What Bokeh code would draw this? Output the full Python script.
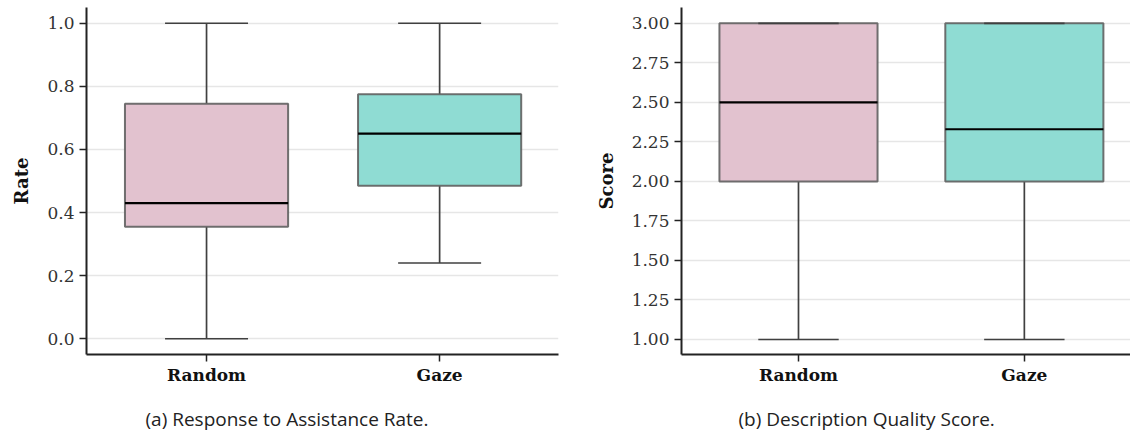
from bokeh.plotting import figure
from bokeh.layouts import row
from bokeh.models import FixedTicker, Range1d, Title
from bokeh.embed import file_html
from bokeh.resources import INLINE

categories = ["Random", "Gaze"]

rate_low = [0.0, 0.24]
rate_q1 = [0.355, 0.485]
rate_median = [0.43, 0.65]
rate_q3 = [0.745, 0.775]
rate_high = [1.0, 1.0]

score_low = [1.0, 1.0]
score_q1 = [2.0, 2.0]
score_median = [2.5, 2.33]
score_q3 = [3.0, 3.0]
score_high = [3.0, 3.0]

rate_ticks = [0.0, 0.2, 0.4, 0.6, 0.8, 1.0]
score_ticks = [1.0, 1.25, 1.5, 1.75, 2.0, 2.25, 2.5, 2.75, 3.0]

colors = ["#e2c2cf", "#8fdcd3"]

SERIF = "DejaVu Serif"


def make_panel(low, q1, med, q3, high, ticks, xr, yr, ylabel, caption, fmt,
               width, border_left, border_right, cap_offset):
    p = figure(width=width, height=435, output_backend="svg", toolbar_location=None,
               x_range=Range1d(*xr), y_range=Range1d(*yr),
               min_border_left=border_left, min_border_right=border_right,
               min_border_top=7, min_border_bottom=0)
    p.outline_line_color = None
    xs = list(range(len(categories)))
    bw = 0.7
    cw = 0.178
    # whiskers
    p.segment(x0=xs, x1=xs, y0=q3, y1=high, line_color="#404040", line_width=1.7)
    p.segment(x0=xs, x1=xs, y0=q1, y1=low, line_color="#404040", line_width=1.7)
    # boxes
    p.vbar(x=xs, top=q3, bottom=q1, width=bw, fill_color=colors,
           line_color="#606060", line_width=2, line_alpha=0.9)
    # caps
    p.segment(x0=[x - cw for x in xs], x1=[x + cw for x in xs], y0=high, y1=high,
              line_color="#404040", line_width=1.7)
    p.segment(x0=[x - cw for x in xs], x1=[x + cw for x in xs], y0=low, y1=low,
              line_color="#404040", line_width=1.7)
    # medians
    p.segment(x0=[x - bw / 2 for x in xs], x1=[x + bw / 2 for x in xs], y0=med, y1=med,
              line_color="black", line_width=2.2)

    p.xgrid.grid_line_color = None
    p.ygrid.grid_line_color = "#e6e6e6"
    p.ygrid.grid_line_width = 1.5
    p.ygrid.ticker = FixedTicker(ticks=ticks)

    p.xaxis.ticker = FixedTicker(ticks=xs)
    p.xaxis.major_label_overrides = {i: c for i, c in enumerate(categories)}
    p.yaxis.ticker = FixedTicker(ticks=ticks)
    p.yaxis.major_label_overrides = {t: fmt.format(t) for t in ticks}

    for ax in (p.xaxis[0], p.yaxis[0]):
        ax.axis_line_color = "#222222"
        ax.axis_line_width = 2
        ax.major_tick_line_color = "#222222"
        ax.major_tick_line_width = 1.5
        ax.major_tick_out = 7
        ax.major_tick_in = 0
        ax.minor_tick_line_color = None
        ax.major_label_text_color = "#333333"
        ax.major_label_text_font = SERIF
    p.xaxis.major_label_standoff = 3
    p.yaxis.major_label_standoff = 5
    p.yaxis.major_label_text_font_size = "17px"
    p.xaxis.major_label_text_font_size = "17px"
    p.xaxis.major_label_text_font_style = "bold"
    p.xaxis.major_label_text_color = "#111111"
    p.yaxis.axis_label = ylabel
    p.yaxis.axis_label_text_font = SERIF
    p.yaxis.axis_label_text_font_style = "bold"
    p.yaxis.axis_label_text_font_size = "18px"
    p.yaxis.axis_label_text_color = "#111111"
    p.yaxis.axis_label_standoff = 12

    spacer = Title(text=" ", text_font_size="6px", standoff=4)
    p.add_layout(spacer, "below")
    t = Title(text=caption, align="left", offset=cap_offset, text_font="Open Sans",
              text_font_size="19px", text_font_style="normal", text_color="#222222",
              standoff=8, vertical_align="bottom")
    p.add_layout(t, "below")
    return p


p1 = make_panel(rate_low, rate_q1, rate_median, rate_q3, rate_high, rate_ticks,
                (-0.515, 1.51), (-0.05, 1.05), "Rate", "(a) Response to Assistance Rate.",
                "{:.1f}", 568, 86, 10, 59)
p2 = make_panel(score_low, score_q1, score_median, score_q3, score_high, score_ticks,
                (-0.518, 1.47), (0.905, 3.1), "Score", "(b) Description Quality Score.",
                "{:.2f}", 562, 113, 0, 57)

layout = row(p1, p2)
open("out.html", "w").write(file_html(layout, INLINE))
